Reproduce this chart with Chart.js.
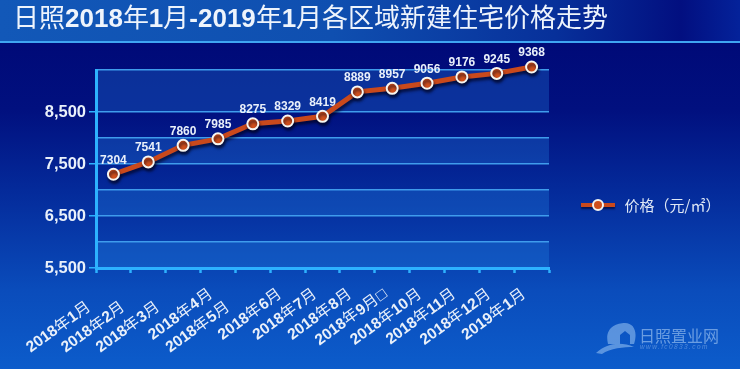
<!DOCTYPE html>
<html lang="zh">
<head>
<meta charset="utf-8">
<style>
@font-face{font-family:"CjkLight";src:local("Noto Sans CJK SC Regular"),local("NotoSansCJKsc-Regular"),local("Noto Sans CJK SC");font-weight:700;unicode-range:U+3000-9FFF,U+FF00-FFEF;}
html,body{margin:0;padding:0;width:740px;height:369px;overflow:hidden;}
body{position:relative;background:
 linear-gradient(90deg,#1258b8 0%,#0f4fb0 45%,#07309a 75%,#020f80 92%,#04229a 100%) 0 0/100% 41px no-repeat,
 linear-gradient(180deg,#3fa5f2,#3fa5f2) 0 41px/100% 2px no-repeat,
 linear-gradient(180deg,#000a78 43px,#01107f 110px,#042a9a 190px,#0a4cbb 290px,#0c5ccb 369px);}
#wrap{position:absolute;left:0;top:0;width:740px;height:369px;}
#logo{position:absolute;left:596px;top:320px;opacity:.55;}
</style>
</head>
<body>
<svg id="logo" width="72" height="36" viewBox="0 0 72 36">
 <path d="M12 24 C8 8 20 3 29 3 C38 3 42 12 38 24 L34 24 L34 15 L29 11 L24 15 L24 24 Z" fill="#9cc6f4"/>
 <path d="M0 33 C12 22 26 22 38 27 C28 27 14 28 6 34 Z" fill="#9cc6f4"/>
</svg>
<div id="wrap"><canvas id="c" width="740" height="369"></canvas></div>
<script src="https://cdn.jsdelivr.net/npm/chart.js@4/dist/chart.umd.min.js"></script>
<script>
const titleText = "日照2018年1月-2019年1月各区域新建住宅价格走势";
const seriesName = "价格（元/㎡）";
const categories = [
  "2018年1月       ","2018年2月       ","2018年3月       ","2018年4月  ","2018年5月       ",
  "2018年6月  ","2018年7月  ","2018年8月  ","2018年9月□  ","2018年10月  ","2018年11月  ","2018年12月  ","2019年1月  "
];
const prices = [7304,7541,7860,7985,8275,8329,8419,8889,8957,9056,9176,9245,9368];
const yGridValues = [5500,6000,6500,7000,7500,8000,8500,9310];
const yLabelValues = [5500,6500,7500,8500];
const watermarkName = "日照置业网";
const watermarkUrl = "www.fc0833.com";

const mixFamily = '"CjkLight","Liberation Sans","Noto Sans CJK SC",sans-serif';
const textColor = "#e9f0fa";
const lineColor = "#c9491c";
const axisColor = "#2db2ff";
const gridColor = "#3f9cec";

function legendGlyph(){
  const g = document.createElement("canvas");
  g.width = 36; g.height = 18;
  const x = g.getContext("2d");
  x.shadowColor = "rgba(0,0,30,.6)"; x.shadowOffsetY = 2; x.shadowBlur = 2;
  x.strokeStyle = lineColor; x.lineWidth = 4;
  x.beginPath(); x.moveTo(1,9); x.lineTo(35,9); x.stroke();
  x.shadowColor = "transparent";
  x.fillStyle = "#cf4f1c"; x.strokeStyle = "#f4f4f0"; x.lineWidth = 2;
  x.beginPath(); x.arc(18,9,5,0,Math.PI*2); x.fill(); x.stroke();
  return g;
}

const bandsPlugin = {
  id:"bands",
  beforeDraw(chart){
    const {ctx,chartArea:a,scales:{y}} = chart;
    ctx.save();
    for(let i=0;i<yGridValues.length-1;i+=2){
      const y0 = y.getPixelForValue(yGridValues[i]);
      const y1 = y.getPixelForValue(yGridValues[i+1]);
      ctx.fillStyle = "rgba(40,140,235,.28)";
      ctx.fillRect(a.left,y1,a.right-a.left,y0-y1);
    }
    ctx.restore();
  }
};
const shadowPlugin = {
  id:"lineShadow",
  beforeDatasetsDraw(chart){
    const c = chart.ctx; c.save();
    c.shadowColor = "rgba(0,0,25,.65)"; c.shadowOffsetX = 1; c.shadowOffsetY = 3; c.shadowBlur = 3;
  },
  afterDatasetsDraw(chart){
    chart.ctx.restore();
    const c = chart.ctx, pts = chart.getDatasetMeta(0).data;
    c.save();
    c.font = 'bold 12px "Liberation Sans",Arial,sans-serif';
    c.fillStyle = textColor; c.textAlign = "center"; c.textBaseline = "middle";
    pts.forEach((p,i)=>c.fillText(String(prices[i]),p.x,p.y-14));
    c.restore();
  }
};
const legendMovePlugin = {
  id:"legendMove",
  afterLayout(chart){
    const l = chart.legend;
    l.left = 579; l.top = 197.5; l.right = 740; l.bottom = 218;
    chart.titleBlock.right = 740;
  }
};
const watermarkPlugin = {
  id:"watermark",
  afterDraw(chart){
    const c = chart.ctx; c.save();
    c.fillStyle = "rgba(170,205,245,.6)"; c.textAlign = "left"; c.textBaseline = "middle";
    c.font = '16px "Noto Sans CJK SC",sans-serif';
    c.fillText(watermarkName,639,336);
    c.font = 'italic 6.5px "Liberation Sans",sans-serif';
    try{c.letterSpacing = "1.4px";}catch(e){}
    c.fillStyle = "rgba(170,205,245,.45)";
    c.fillText(watermarkUrl,640,347);
    c.restore();
  }
};

function build(){
  new Chart(document.getElementById("c"),{
    type:"line",
    data:{labels:categories,datasets:[{
      label:seriesName,data:prices,clip:false,
      borderColor:lineColor,borderWidth:5,tension:0,
      pointRadius:5.5,pointBorderWidth:2,pointBackgroundColor:"#cf4f1c",pointBorderColor:"#f6f6f2",
      pointHoverRadius:5.5
    }]},
    plugins:[bandsPlugin,shadowPlugin,legendMovePlugin,watermarkPlugin],
    options:{
      responsive:false,animation:false,
      layout:{padding:{left:13,right:191,top:0,bottom:0}},
      plugins:{
        title:{display:true,text:titleText,align:"start",color:"#eef4fc",
          font:{family:mixFamily,size:26,weight:"bold"},padding:{top:4,bottom:34.8}},
        legend:{position:"chartArea",align:"start",
          labels:{color:"#dfe8f5",font:{family:'"Noto Sans CJK SC",sans-serif',size:15},
            usePointStyle:true,pointStyleWidth:38,padding:0,
            generateLabels:(ch)=>[{text:seriesName,fontColor:"#dfe8f5",pointStyle:legendGlyph(),
              fillStyle:lineColor,strokeStyle:lineColor,lineWidth:0,datasetIndex:0}]}},
        tooltip:{enabled:false}
      },
      scales:{
        x:{offset:true,
          grid:{offset:true,drawOnChartArea:false,drawTicks:true,tickLength:5,tickColor:axisColor,tickWidth:2.5},
          border:{color:axisColor,width:3},
          afterFit(s){s.height=101;},
          ticks:{color:textColor,autoSkip:false,minRotation:36,maxRotation:36,padding:7,
            font:{family:mixFamily,size:15.5,weight:"bold"}}},
        y:{min:5500,max:9310,
          afterBuildTicks(s){s.ticks=yGridValues.map(v=>({value:v}));},
          afterFit(s){s.width=83;},
          grid:{color:gridColor,lineWidth:1.5,tickLength:7,
            tickColor:(ctx)=>yLabelValues.includes(ctx.tick&&ctx.tick.value)?axisColor:"transparent"},
          border:{color:axisColor,width:3},
          ticks:{color:textColor,padding:3,autoSkip:false,
            font:{family:'"Liberation Sans",Arial,sans-serif',size:16.5,weight:"bold"},
            callback:(v)=>yLabelValues.includes(v)?v.toLocaleString("en-US"):""}}
      }
    }
  });
}
document.fonts.load('bold 26px "CjkLight"',"年").then(build,build);
</script>
</body>
</html>
